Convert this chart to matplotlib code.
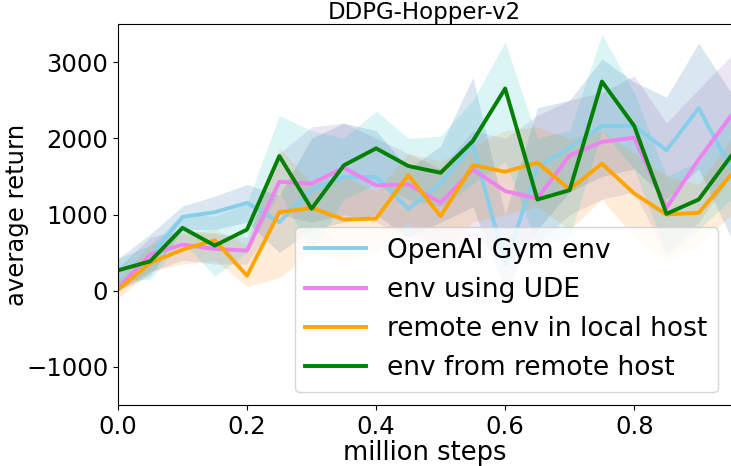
# DDPG-Hopper-v2: 4種類の環境での平均リターン
import matplotlib.pyplot as plt
import numpy as np

# x軸: million steps
steps = [0.0, 0.05, 0.1, 0.15, 0.2, 0.25, 0.3, 0.35, 0.4, 0.45,
         0.5, 0.55, 0.6, 0.65, 0.7, 0.75, 0.8, 0.85, 0.9, 0.95]

# OpenAI Gym env
gym_mean = [57, 452, 969, 1030, 1154, 899, 1320, 1491, 1491, 1075,
            1408, 1921, 350, 1620, 1877, 2162, 2162, 1842, 2395, 1600]
gym_upper = [420, 740, 1110, 1240, 1395, 1250, 2000, 2200, 2100, 1600,
             1900, 2800, 1000, 2400, 2500, 3040, 2740, 2540, 3250, 2600]
gym_lower = [0, 200, 800, 800, 900, 500, 800, 900, 1000, 700,
             900, 1100, 0, 800, 1300, 1500, 1600, 1200, 1600, 700]

# env using UDE
ude_mean = [35, 474, 605, 548, 526, 1430, 1404, 1614, 1382, 1395,
            1154, 1592, 1307, 1211, 1776, 1952, 2009, 1088, 1724, 2294]
ude_upper = [300, 700, 800, 750, 700, 1800, 2150, 2200, 2000, 1800,
             1600, 2100, 2000, 2300, 2500, 2600, 2820, 2200, 2645, 3080]
ude_lower = [0, 250, 400, 350, 350, 1000, 900, 1000, 900, 700,
             600, 700, 400, 600, 1000, 1200, 1300, 450, 900, 1500]

# remote env in local host
local_mean = [13, 364, 539, 662, 197, 1030, 1088, 934, 947, 1517,
              978, 1649, 1561, 1680, 1329, 1667, 1276, 1000, 1022, 1520]
local_upper = [150, 600, 750, 800, 600, 1880, 1400, 1500, 1300, 1800,
               1700, 1900, 2100, 2150, 2000, 2100, 1800, 1500, 1400, 2000]
local_lower = [-100, 250, 350, 400, 57, 170, 500, 400, 500, 900,
               500, 900, 1000, 1100, 800, 1200, 700, 400, 583, 1000]

# env from remote host
remote_mean = [267, 386, 825, 592, 803, 1767, 1075, 1645, 1868, 1636,
               1548, 1965, 2653, 1197, 1320, 2745, 2162, 1009, 1197, 1767]
remote_upper = [420, 600, 1000, 980, 1150, 2300, 2100, 2000, 2360, 2000,
                2030, 2500, 3263, 2000, 2100, 3360, 2600, 1500, 1700, 2300]
remote_lower = [130, 150, 650, 188, 500, 1300, 500, 1200, 1400, 1200,
                1100, 1400, 1700, 600, 700, 2100, 1600, 500, 800, 1200]

labels = ['OpenAI Gym env', 'env using UDE',
          'remote env in local host', 'env from remote host']

fig = plt.figure(figsize=(7.31, 4.66), dpi=100)
ax = fig.add_axes([118 / 731, 61 / 466, 613 / 731, 381 / 466])

series = [
    (gym_mean, gym_lower, gym_upper, 'skyblue', 'steelblue', 0.2),
    (ude_mean, ude_lower, ude_upper, 'violet', 'rebeccapurple', 0.12),
    (local_mean, local_lower, local_upper, 'orange', 'darkorange', 0.15),
    (remote_mean, remote_lower, remote_upper, 'green', 'c', 0.14),
]

# 帯 (ばらつき) を先に描いてから平均の線を重ねる
for m, lo, hi, col, fcol, a in series:
    ax.fill_between(steps, lo, hi, color=fcol, alpha=a, linewidth=0)
for (m, lo, hi, col, fcol, a), lab in zip(series, labels):
    ax.plot(steps, m, color=col, linewidth=2.8, label=lab)

ax.set_xlim(0, 0.95)
ax.set_ylim(-1500, 3500)
ax.set_xticks([0.0, 0.2, 0.4, 0.6, 0.8])
ax.set_yticks([-1000, 0, 1000, 2000, 3000])
ax.tick_params(labelsize=17.5)
ax.spines['right'].set_visible(False)

ax.set_title('DDPG-Hopper-v2', fontsize=16.5, pad=1)
ax.set_xlabel('million steps', fontsize=18.5, labelpad=1)
ax.set_ylabel('average return', fontsize=17.5)
ax.yaxis.set_label_coords(-0.145, 0.5)

ax.legend(loc='lower right', fontsize=19, handlelength=2.3)

fig.savefig('out.png', dpi=100)
